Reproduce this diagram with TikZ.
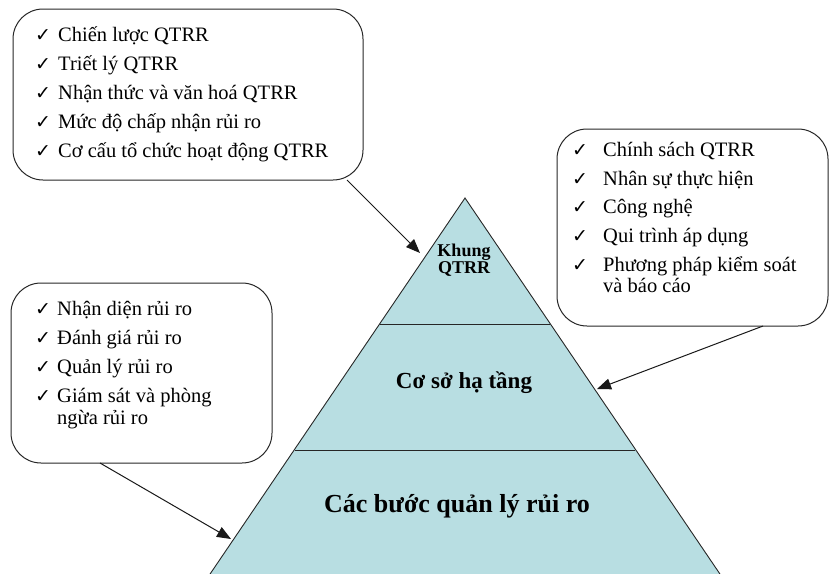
\documentclass[tikz,border=0pt]{standalone}
\usepackage{fontspec}
\setmainfont{Liberation Serif}
\newfontfamily\symfont{DejaVu Sans}
\usetikzlibrary{arrows.meta}
\definecolor{pyrfill}{RGB}{184,222,226}
\tikzset{
  x=1pt,y=-1pt,
  bubble/.style={draw=black!85,line width=1pt,rounded corners=30pt},
  item/.style={anchor=base west,inner sep=0pt,font=\fontsize{20.5}{22}\selectfont},
  tick/.style={anchor=base west,inner sep=0pt,font=\symfont\fontsize{19}{19}\selectfont},
  layerline/.style={draw=black!85,line width=0.9pt},
  pointer/.style={draw=black!90,line width=1pt,-{Triangle[length=14pt,width=11pt]}},
  lvl/.style={anchor=base,inner sep=0pt}
}
\begin{document}
\begin{tikzpicture}
\useasboundingbox (0,0) rectangle (829,573);
% pyramid
\coordinate (apex) at (465,198);
\coordinate (bl) at (206,580);
\coordinate (br) at (724,580);
\coordinate (l1) at (380,324);
\coordinate (r1) at (550,324);
\coordinate (l2) at (295,450);
\coordinate (r2) at (635,450);
\begin{scope}
\clip (0,0) rectangle (829,573);
\fill[pyrfill] (apex) -- (br) -- (bl) -- cycle;
\draw[layerline] (bl) -- (apex) -- (br);
\draw[layerline] (l1) -- (r1);
\draw[layerline] (l2) -- (r2);
\end{scope}
\node[lvl,font=\bfseries\fontsize{18}{18}\selectfont] (khung1) at (464,256.5) {Khung};
\node[lvl,font=\bfseries\fontsize{18}{18}\selectfont] (khung2) at (464,273.5) {QTRR};
\node[lvl,font=\bfseries\fontsize{23}{23}\selectfont] (coso) at (464,388) {Cơ sở hạ tầng};
\node[lvl,font=\bfseries\fontsize{26}{26}\selectfont] (cacbuoc) at (457,512.5) {Các bước quản lý rủi ro};

% boxes
\node[bubble,minimum width=350pt,minimum height=171pt] (tbox) at (188,94.5) {};
\node[bubble,minimum width=271pt,minimum height=197pt] (rbox) at (692.5,227.5) {};
\node[bubble,minimum width=261pt,minimum height=180pt] (lbox) at (141.5,373) {};

% top box items
\foreach \yy/\tx [count=\i] in {41.5/Chiến lược QTRR,70.3/Triết lý QTRR,99/Nhận thức và văn hoá QTRR,128/Mức độ chấp nhận rủi ro,157/Cơ cấu tổ chức hoạt động QTRR}{
  \node[tick] (tt\i) at (35,\yy) {✓};
  \node[item] (ti\i) at (58,\yy) {\tx};
}
% right box items
\foreach \yy/\tx [count=\i] in {156/Chính sách QTRR,185/Nhân sự thực hiện,213.5/Công nghệ,242/Qui trình áp dụng,271/Phương pháp kiểm soát}{
  \node[tick] (rt\i) at (572,\yy) {✓};
  \node[item] (ri\i) at (603,\yy) {\tx};
}
\node[item] (ri6) at (603,292.5) {và báo cáo};
% left box items
\foreach \yy/\tx [count=\i] in {315/Nhận diện rủi ro,344/Đánh giá rủi ro,373/Quản lý rủi ro,402/Giám sát và phòng}{
  \node[tick] (lt\i) at (35,\yy) {✓};
  \node[item] (li\i) at (57,\yy) {\tx};
}
\node[item] (li5) at (57,424) {ngừa rủi ro};

% pointers
\coordinate (ts) at (347,180);
\coordinate (te) at (420,253);
\coordinate (rs) at (763,326);
\coordinate (re) at (597,389);
\coordinate (ls) at (100,463);
\coordinate (le) at (231,539);
\draw[pointer] (ts) -- (te);
\draw[pointer] (rs) -- (re);
\draw[pointer] (ls) -- (le);
\end{tikzpicture}
\end{document}
